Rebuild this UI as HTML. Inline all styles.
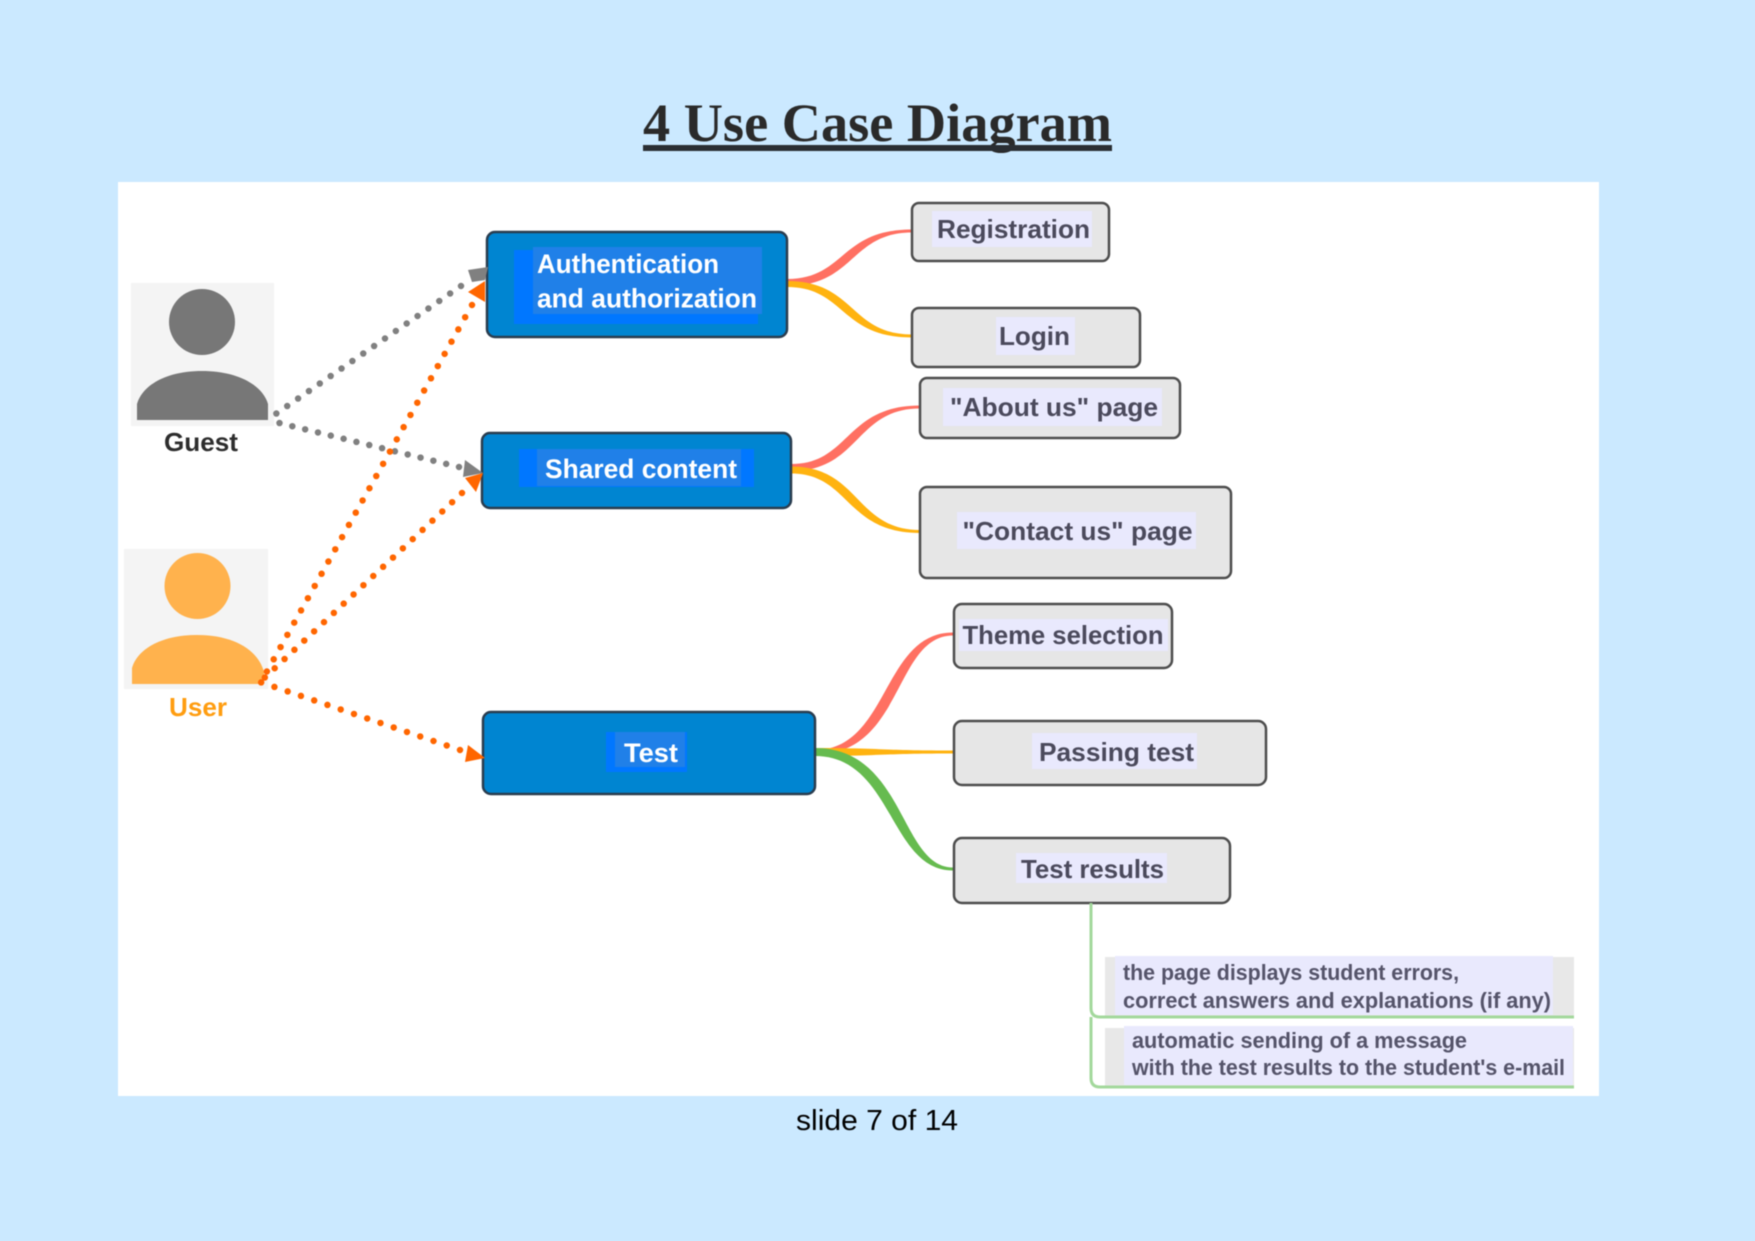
<!DOCTYPE html>
<html><head><meta charset="utf-8"><style>
html,body{margin:0;padding:0;background:#cbe9ff;width:1755px;height:1241px;overflow:hidden}
svg{display:block}
.s{font-family:"Liberation Sans",Arial,sans-serif}
.n{font:bold 26px "Liberation Sans",Arial,sans-serif;fill:#4b4a5c}
.b{font:bold 27px "Liberation Sans",Arial,sans-serif;fill:#fff}
.t{font:bold 22px "Liberation Sans",Arial,sans-serif;fill:#55546a}
.box{fill:#e6e6e6;stroke:#4d4d4d;stroke-width:2.5}
.blue{fill:#0085d1;stroke:#2a3d4f;stroke-width:2.5}
.lab{fill:#e9e9fd}
.dg{fill:none;stroke:#808080;stroke-width:6.5;stroke-linecap:round;stroke-dasharray:0 13.2}
.do{fill:none;stroke:#ff6600;stroke-width:6.5;stroke-linecap:round;stroke-dasharray:0 14}
.all{filter:blur(.5px)}
</style></head><body>
<svg width="1755" height="1241" viewBox="0 0 1755 1241" xmlns="http://www.w3.org/2000/svg">
<rect width="1755" height="1241" fill="#cbe9ff"/>
<g class="all">
<text x="643" y="141" textLength="469" lengthAdjust="spacingAndGlyphs" style="font:bold 54px 'Liberation Serif',serif" fill="#2a2a2a">4 Use Case Diagram</text>
<rect x="643" y="145" width="469" height="6" fill="#2a2e33"/>
<rect x="118" y="182" width="1481" height="914" fill="#fff"/>

<!-- actors -->
<rect x="131" y="283" width="143" height="143" fill="#f4f4f4"/>
<circle cx="202" cy="322" r="33" fill="#777"/>
<path d="M137 420V404C142 386 165 371 202 371C239 371 263 386 268 404V420Z" fill="#777"/>
<text class="s" x="164" y="451" textLength="74" lengthAdjust="spacingAndGlyphs" font-size="26" font-weight="bold" fill="#2d2d2d">Guest</text>
<rect x="124" y="549" width="144" height="140" fill="#f4f4f4"/>
<circle cx="197.5" cy="586" r="33" fill="#ffb24d"/>
<path d="M132 684V668C137 650 160 635 197 635C234 635 258 650 264 672V684Z" fill="#ffb24d"/>
<text class="s" x="169" y="716" textLength="58" lengthAdjust="spacingAndGlyphs" font-size="26" font-weight="bold" fill="#ff9d10">User</text>

<!-- curved connectors -->
<path d="M787 279C845 279 840 229.500 912 229.500L912 232.500C850 232.500 855 286 787 286Z" fill="#ff7062"/>
<path d="M787 281C855 281 850 334.500 912 334.500L912 337.500C840 337.500 845 287 787 287Z" fill="#ffb310"/>
<path d="M791 464C850 464 845 405.500 920 405.500L920 408.500C855 408.500 860 471 791 471Z" fill="#ff7062"/>
<path d="M791 466.500C860 466.500 855 530 920 530L920 533C845 533 850 473.500 791 473.500Z" fill="#ffb310"/>
<path d="M815 750C889 750 882 632.500 953 632.500L953 635.500C894 635.500 903 756 815 754Z" fill="#ff7062"/>
<path d="M815 748C880 748 880 750.500 953 750.500L953 753.500C880 753.500 880 756 815 756Z" fill="#ffb310"/>
<path d="M815 748C905 748 900 867.500 953 867.500L953 870.500C889 870.500 893 756 815 756Z" fill="#66bb4f"/>

<!-- blue boxes -->
<rect class="blue" x="487" y="232" width="300" height="105" rx="8"/>
<rect x="514" y="250" width="244" height="74" fill="#0077ff"/>
<rect x="533" y="247" width="229" height="67" fill="#2080e8"/>
<text class="b" x="537" y="273" textLength="182" lengthAdjust="spacingAndGlyphs">Authentication</text>
<text class="b" x="537" y="307.500" textLength="220" lengthAdjust="spacingAndGlyphs">and authorization</text>
<rect class="blue" x="482" y="433" width="309" height="75" rx="8"/>
<rect x="519" y="449" width="235" height="38" fill="#0077ff"/>
<rect x="537" y="449" width="204" height="37" fill="#2080e8"/>
<text class="b" x="545" y="478" textLength="192" lengthAdjust="spacingAndGlyphs">Shared content</text>
<rect class="blue" x="483" y="712" width="332" height="82" rx="8"/>
<rect x="606" y="732" width="81" height="40" fill="#0077ff"/>
<rect x="615" y="732" width="70" height="35" fill="#2080e8"/>
<text class="b" x="624" y="762" textLength="54" lengthAdjust="spacingAndGlyphs">Test</text>

<!-- grey boxes -->
<rect class="box" x="912" y="203" width="197" height="58" rx="7"/>
<rect class="lab" x="932" y="211" width="160" height="36"/>
<text class="n" x="937" y="238" textLength="153" lengthAdjust="spacingAndGlyphs">Registration</text>
<rect class="box" x="912" y="308" width="228" height="59" rx="7"/>
<rect class="lab" x="996" y="317" width="79" height="38"/>
<text class="n" x="999" y="345" textLength="71" lengthAdjust="spacingAndGlyphs">Login</text>
<rect class="box" x="920" y="378" width="260" height="60" rx="7"/>
<rect class="lab" x="943" y="388" width="219" height="38"/>
<text class="n" x="950" y="416" textLength="208" lengthAdjust="spacingAndGlyphs">"About us" page</text>
<rect class="box" x="920" y="487" width="311" height="91" rx="7"/>
<rect class="lab" x="957" y="512" width="239" height="37"/>
<text class="n" x="962.500" y="540" textLength="230" lengthAdjust="spacingAndGlyphs">"Contact us" page</text>
<rect class="box" x="954" y="604" width="218" height="64" rx="8"/>
<rect class="lab" x="959" y="619" width="209" height="32"/>
<text class="n" x="962.500" y="644" textLength="201" lengthAdjust="spacingAndGlyphs">Theme selection</text>
<rect class="box" x="954" y="721" width="312" height="64" rx="8"/>
<rect class="lab" x="1032" y="733" width="165" height="36"/>
<text class="n" x="1039" y="761" textLength="155" lengthAdjust="spacingAndGlyphs">Passing test</text>
<rect class="box" x="954" y="838" width="276" height="65" rx="8"/>
<rect class="lab" x="1016" y="853" width="151" height="30"/>
<text class="n" x="1021" y="878" textLength="143" lengthAdjust="spacingAndGlyphs">Test results</text>

<!-- notes -->
<rect x="1105" y="957" width="469" height="59" fill="#e8e8e8"/>
<rect x="1115" y="956" width="438" height="59" class="lab"/>
<rect x="1105" y="1028" width="469" height="59" fill="#e8e8e8"/>
<rect x="1124" y="1026" width="449" height="59" class="lab"/>
<text class="t" x="1123" y="980" textLength="336" lengthAdjust="spacingAndGlyphs">the page displays student errors,</text>
<text class="t" x="1123" y="1008" textLength="428" lengthAdjust="spacingAndGlyphs">correct answers and explanations (if any)</text>
<text class="t" x="1132" y="1048" textLength="335" lengthAdjust="spacingAndGlyphs">automatic sending of a message</text>
<text class="t" x="1132" y="1075" textLength="433" lengthAdjust="spacingAndGlyphs">with the test results to the student's e-mail</text>
<path d="M1091 903V1008Q1091 1017 1100 1017H1574M1091 1017V1078Q1091 1087 1100 1087H1574" fill="none" stroke="#a3d89c" stroke-width="3"/>

<!-- dotted arrows -->
<path class="dg" d="M461 286L267 420"/>
<polygon points="468,270 488,267 485,280 472,282" fill="#808080"/>
<path class="dg" d="M459 467L267 420"/>
<polygon points="465,460 483,473 463,477" fill="#808080"/>
<path class="do" d="M472 305L261 682"/>
<polygon points="485,281 485,302 468,292" fill="#ff6600"/>
<path class="do" d="M462 493L260 682" style="stroke-dasharray:0 13.5"/>
<polygon points="483,473 465,478 476,492" fill="#ff6600"/>
<path class="do" d="M460 750L260 682"/>
<polygon points="485,758 468,745 465,762" fill="#ff6600"/>

<text x="796" y="1130" textLength="162" lengthAdjust="spacingAndGlyphs" style="font:29px 'Liberation Sans',sans-serif" fill="#000">slide 7 of 14</text>
</g>
</svg>
</body></html>
